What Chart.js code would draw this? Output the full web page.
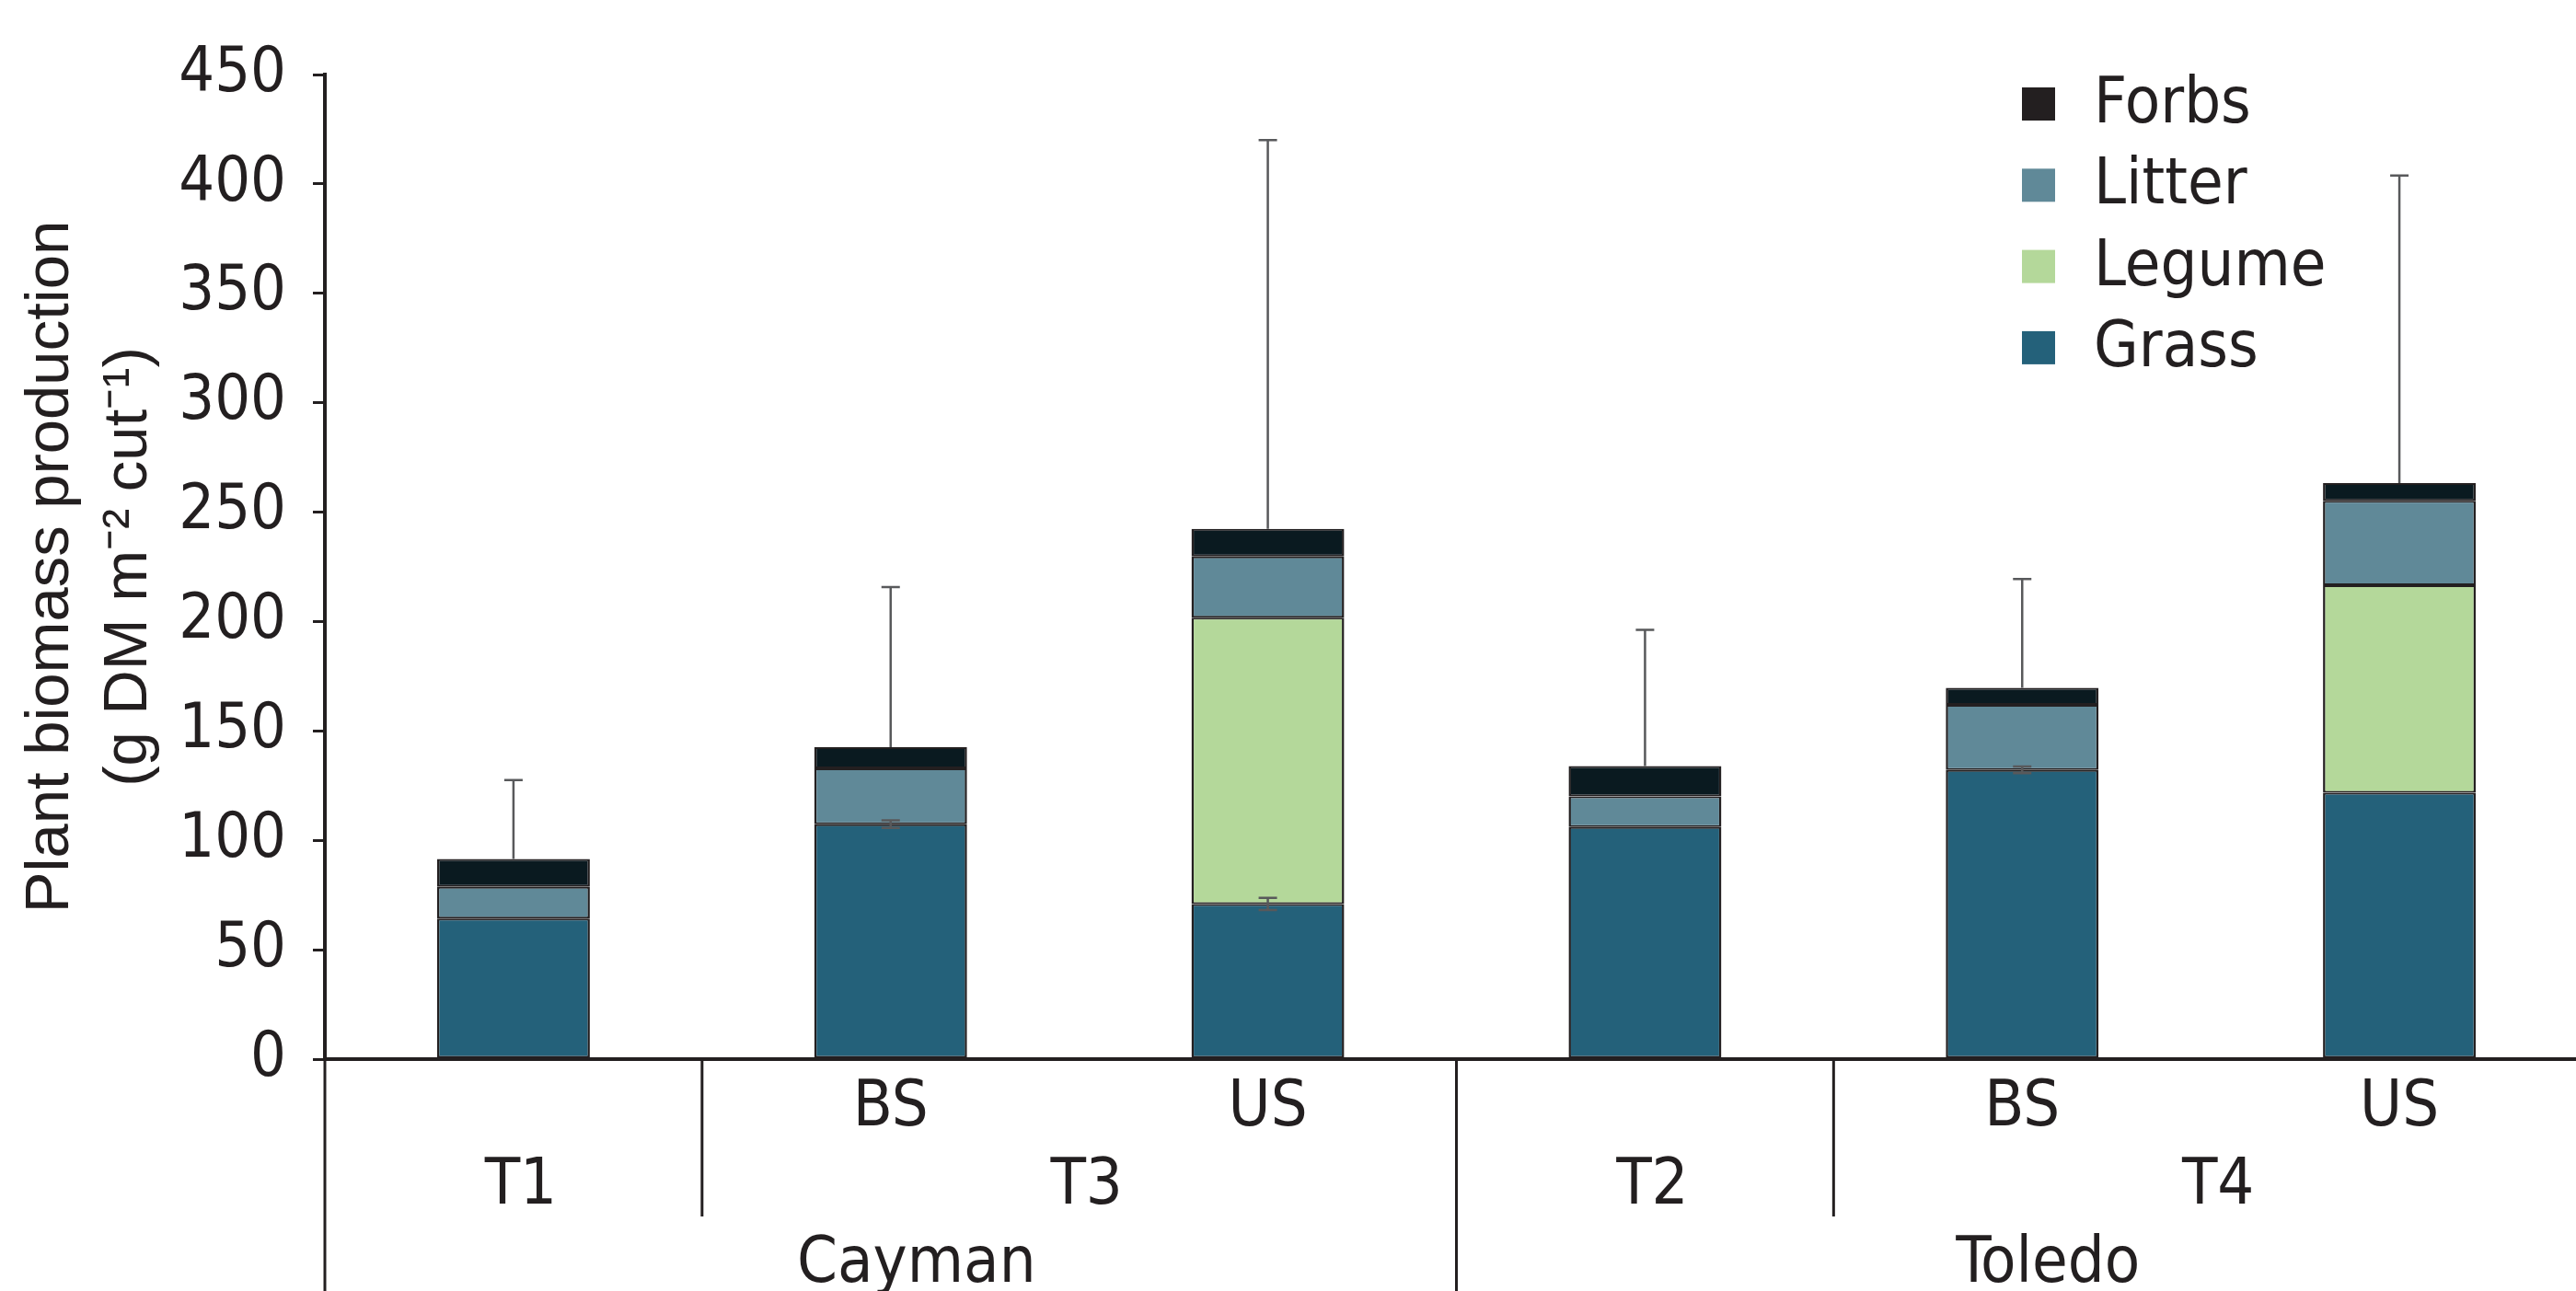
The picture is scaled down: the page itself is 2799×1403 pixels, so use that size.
<!DOCTYPE html>
<html>
<head>
<meta charset="utf-8">
<script src="https://cdn.jsdelivr.net/npm/chart.js@4.4.1/dist/chart.umd.min.js"></script>
<style>
  html, body { margin: 0; padding: 0; background: #fff; overflow: hidden; }
  #wrap { width: 2812px; height: 1403px; }
</style>
</head>
<body>
<div id="wrap"><canvas id="biomassChart"></canvas></div>
<script>
// Categories (three-level x axis)
const subLabels = ['', 'BS', 'US', '', 'BS', 'US'];
const treatLabels = ['T1', 'T3', 'T2', 'T4'];
const treatSpans = [1, 2, 1, 2];
const siteLabels = ['Cayman', 'Toledo'];
const siteSpans = [3, 3];

// Stacked components (g DM m-2 cut-1)
const grass = [64.2, 107.4, 70.9, 106.1, 132.2, 121.7];
const legume = [null, null, 130.9, null, null, 94.9];
const litter = [14.6, 25.5, 27.9, 14.0, 29.7, 38.6];
const forbs = [12.7, 9.7, 12.6, 13.8, 7.8, 8.1];

// Error bars (+ above total, ± on grass)
const totalErr = [36.0, 73.2, 177.7, 62.3, 49.7, 140.5];
const grassErr = [null, 1.7, 2.8, null, 1.5, null];

const yMin = 0, yMax = 450, yStep = 50;

const ink = '#231f20';
const narrow = "'Liberation Sans Narrow', 'DejaVu Sans Condensed', Roboto, sans-serif";

// error bars drawn over the bars
const errorBars = {
    id: 'errorBars',
    afterDatasetsDraw(chart) {
        const ctx = chart.ctx, xs = chart.scales.x, ys = chart.scales.y;
        ctx.save();
        ctx.strokeStyle = '#58595b';
        ctx.lineWidth = 2.5;
        const cap = 10;
        for (let i = 0; i < grass.length; i++) {
            const px = xs.getPixelForValue(i);
            const total = (grass[i] || 0) + (legume[i] || 0) + (litter[i] || 0) + (forbs[i] || 0);
            const yTop = ys.getPixelForValue(total + totalErr[i]);
            ctx.beginPath();
            ctx.moveTo(px, ys.getPixelForValue(total));
            ctx.lineTo(px, yTop);
            ctx.moveTo(px - cap, yTop);
            ctx.lineTo(px + cap, yTop);
            ctx.stroke();
            if (grassErr[i]) {
                const a = ys.getPixelForValue(grass[i] + grassErr[i]);
                const b = ys.getPixelForValue(grass[i] - grassErr[i]);
                ctx.beginPath();
                ctx.moveTo(px, a); ctx.lineTo(px, b);
                ctx.moveTo(px - cap, a); ctx.lineTo(px + cap, a);
                ctx.moveTo(px - cap, b); ctx.lineTo(px + cap, b);
                ctx.stroke();
            }
        }
        ctx.restore();
    }
};

// lower category rows + separators
const groupAxis = {
    id: 'groupAxis',
    afterDraw(chart) {
        const ctx = chart.ctx, xs = chart.scales.x, area = chart.chartArea;
        const H = chart.height;
        const boundary = (i) => (xs.getPixelForValue(i - 1) + xs.getPixelForValue(i)) / 2;
        ctx.save();
        ctx.strokeStyle = ink;
        ctx.lineWidth = 3;
        // left edge down to bottom
        ctx.beginPath();
        ctx.moveTo(area.left, area.bottom);
        ctx.lineTo(area.left, H);
        ctx.stroke();

        ctx.fillStyle = ink;
        ctx.font = '70px ' + narrow;
        ctx.textAlign = 'center';
        ctx.textBaseline = 'middle';

        let start = 0;
        treatLabels.forEach((lab, k) => {
            const end = start + treatSpans[k] - 1;
            const cx = (xs.getPixelForValue(start) + xs.getPixelForValue(end)) / 2;
            ctx.fillText(lab, cx + 8, area.bottom + 139);
            if (start > 0) {
                ctx.beginPath();
                ctx.moveTo(boundary(start), area.bottom);
                ctx.lineTo(boundary(start), area.bottom + 171);
                ctx.stroke();
            }
            start = end + 1;
        });

        start = 0;
        siteLabels.forEach((lab, k) => {
            const end = start + siteSpans[k] - 1;
            const cx = (xs.getPixelForValue(start) + xs.getPixelForValue(end)) / 2;
            ctx.fillText(lab, cx + 28, area.bottom + 224);
            if (start > 0) {
                ctx.beginPath();
                ctx.moveTo(boundary(start), area.bottom);
                ctx.lineTo(boundary(start), H);
                ctx.stroke();
            }
            start = end + 1;
        });
        ctx.restore();
    }
};

// legend inside the plot, top-down = top of stack first
const insideLegend = {
    id: 'insideLegend',
    afterDraw(chart) {
        const ctx = chart.ctx;
        const sets = chart.data.datasets.slice().reverse();
        ctx.save();
        ctx.font = '70px ' + narrow;
        ctx.textBaseline = 'middle';
        ctx.textAlign = 'left';
        sets.forEach((ds, i) => {
            const top = 95 + i * 88.3;
            ctx.fillStyle = ds.legendColor || ds.backgroundColor;
            ctx.fillRect(2197, top, 36, 36);
            ctx.fillStyle = ink;
            ctx.fillText(ds.label, 2275, top + 20);
        });
        ctx.restore();
    }
};

const segBorder = { top: 2, bottom: 2, left: 2.5, right: 2.5 };

const ctx = document.getElementById('biomassChart').getContext('2d');
const chart = new Chart(ctx, {
    type: 'bar',
    data: {
        labels: subLabels,
        datasets: [
            { label: 'Grass', data: grass, backgroundColor: '#24617a' },
            { label: 'Legume', data: legume, backgroundColor: '#b4d89a' },
            { label: 'Litter', data: litter, backgroundColor: '#608998' },
            { label: 'Forbs', data: forbs, backgroundColor: '#0a1a20', legendColor: ink }
        ].map(d => Object.assign(d, {
            borderColor: ink, borderWidth: segBorder, borderSkipped: false,
            barPercentage: 0.405, categoryPercentage: 1
        }))
    },
    options: {
        responsive: true,
        maintainAspectRatio: false,
        devicePixelRatio: 1,
        animation: false,
        layout: { padding: { top: 81, right: 0, bottom: 0, left: 0 } },
        plugins: { legend: { display: false }, tooltip: { enabled: false } },
        scales: {
            x: {
                stacked: true,
                grid: { display: false, drawTicks: false },
                border: { display: true, color: ink, width: 4 },
                ticks: {
                    color: ink, autoSkip: false, maxRotation: 0, padding: 12,
                    font: { family: narrow, size: 70, lineHeight: 1.2 }
                },
                afterFit(scale) { scale.height = 252; }
            },
            y: {
                stacked: true,
                min: yMin, max: yMax,
                grid: { drawOnChartArea: false, drawTicks: true, tickLength: 13, color: ink, lineWidth: 3 },
                border: { display: true, color: ink, width: 4 },
                ticks: {
                    stepSize: yStep, color: ink, padding: 29,
                    font: { family: narrow, size: 68 }
                },
                title: {
                    display: true,
                    text: ['Plant biomass production', '(g DM m\u207B\u00B2 cut\u207B\u00B9)'],
                    color: ink,
                    padding: { top: 13, bottom: 0 },
                    font: { family: "'Liberation Sans', Arial, sans-serif", size: 67, lineHeight: 1.27 }
                },
                afterFit(scale) { scale.width = 353; }
            }
        }
    },
    plugins: [errorBars, groupAxis, insideLegend]
});
</script>
</body>
</html>
